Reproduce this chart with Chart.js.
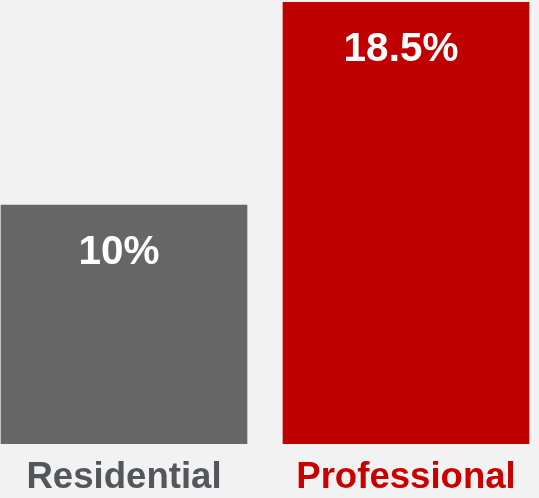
<!DOCTYPE html>
<html lang="en">
<head>
    <meta charset="UTF-8">
    <title>Residential vs Professional</title>
    <script src="https://cdn.jsdelivr.net/npm/chart.js"></script>
    <style>
        body { margin: 0; background: #f2f2f2; }
        #wrap { width: 539px; height: 498px; position: relative; }
    </style>
</head>
<body>
    <div id="wrap"><canvas id="shareChart"></canvas></div>

    <script>
        const categories = ['Residential', 'Professional'];
        const values = [10, 18.5];
        const barColors = ['#666666', '#c00000'];
        const labelColors = ['#53565b', '#c80000'];

        const FONT = '"Liberation Sans", Arial, sans-serif';

        // bars sit on a numeric x axis (0, 1) so they can run right to the canvas edges
        const points = values.map((v, i) => ({ x: i, y: v }));

        // white percentage printed inside the top of each bar
        const valueLabels = {
            id: 'valueLabels',
            afterDatasetsDraw(chart) {
                const ctx = chart.ctx;
                const meta = chart.getDatasetMeta(0);
                ctx.save();
                ctx.fillStyle = '#ffffff';
                ctx.font = 'bold 40.5px ' + FONT;
                ctx.textAlign = 'center';
                ctx.textBaseline = 'alphabetic';
                meta.data.forEach((bar, i) => {
                    ctx.fillText(values[i] + '%', bar.x - 5, bar.y + 59);
                });
                ctx.restore();
            }
        };

        const ctx = document.getElementById('shareChart').getContext('2d');
        const shareChart = new Chart(ctx, {
            type: 'bar',
            data: {
                datasets: [{
                    data: points,
                    backgroundColor: barColors,
                    borderWidth: 0,
                    barThickness: 246
                }]
            },
            options: {
                responsive: true,
                maintainAspectRatio: false,
                animation: false,
                layout: { padding: { left: 0, right: 0, top: 2, bottom: 0 } },
                plugins: {
                    legend: { display: false },
                    tooltip: { enabled: false }
                },
                scales: {
                    x: {
                        type: 'linear',
                        min: -0.4397,
                        max: 1.4716,
                        offset: false,
                        grid: { display: false, drawTicks: false },
                        border: { display: false },
                        afterBuildTicks: (scale) => {
                            scale.ticks = categories.map((c, i) => ({ value: i }));
                        },
                        afterFit: (scale) => { scale.height = 54; },
                        ticks: {
                            callback: (v) => categories[v],
                            color: labelColors,
                            font: { family: FONT, size: 36.6, weight: 'bold' },
                            padding: 12,
                            maxRotation: 0,
                            autoSkip: false
                        }
                    },
                    y: {
                        display: false,
                        min: 0,
                        max: 18.5
                    }
                }
            },
            plugins: [valueLabels]
        });
    </script>
</body>
</html>
